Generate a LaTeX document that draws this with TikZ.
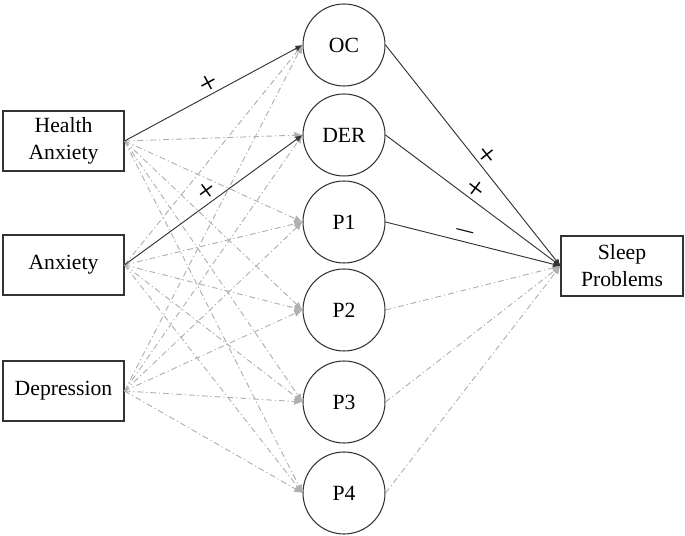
\documentclass[tikz,border=0pt]{standalone}
\usepackage{fontspec}
\setmainfont{Liberation Serif}
\usetikzlibrary{arrows.meta}
\definecolor{pathgray}{HTML}{B0B0B0}
\definecolor{linedark}{HTML}{333333}
\begin{document}
\begin{tikzpicture}[
    font=\fontsize{18.5}{23}\selectfont,
    obsbox/.style={draw=linedark, line width=0.9pt, minimum width=3.63cm, minimum height=1.8cm, align=center, inner sep=0pt},
    latent/.style={draw=linedark, line width=0.9pt, circle, minimum size=2.46cm, inner sep=0pt},
    sig/.style={draw=linedark, line width=0.8pt, -{Latex[length=6pt,width=5pt]}},
    nonsig/.style={draw=pathgray, line width=0.8pt, dash pattern=on 5pt off 2.5pt on 1pt off 2.5pt, -{Latex[length=7pt,width=6pt]}},
    sign/.style={sloped, above, inner sep=0.5pt, font=\fontsize{27}{27}\selectfont}
  ]
            \useasboundingbox (0,0) rectangle (20.55,16.08);

            \node[obsbox] (health) at (1.905,11.85) {Health\\Anxiety};
            \node[obsbox] (anx) at (1.905,8.13) {Anxiety};
            \node[obsbox] (dep) at (1.905,4.35) {Depression};

            \node[latent] (oc) at (10.32,14.73) {OC};
            \node[latent] (der) at (10.32,12.03) {DER};
            \node[latent] (p1) at (10.32,9.42) {P1};
            \node[latent] (p2) at (10.32,6.78) {P2};
            \node[latent] (p3) at (10.32,4.02) {P3};
            \node[latent] (p4) at (10.32,1.29) {P4};

            \node[obsbox, minimum width=3.66cm] (sleep) at (18.66,8.10) {Sleep\\Problems};

            % non-significant paths
            \path (health.east) edge[nonsig] (der.west);
            \path (health.east) edge[nonsig] (p1.west);
            \path (health.east) edge[nonsig] (p2.west);
            \path (health.east) edge[nonsig] (p3.west);
            \path (health.east) edge[nonsig] (p4.west);
            \path (anx.east) edge[nonsig] (oc.west);
            \path (anx.east) edge[nonsig] (p1.west);
            \path (anx.east) edge[nonsig] (p2.west);
            \path (anx.east) edge[nonsig] (p3.west);
            \path (anx.east) edge[nonsig] (p4.west);
            \path (dep.east) edge[nonsig] (oc.west);
            \path (dep.east) edge[nonsig] (der.west);
            \path (dep.east) edge[nonsig] (p1.west);
            \path (dep.east) edge[nonsig] (p2.west);
            \path (dep.east) edge[nonsig] (p3.west);
            \path (dep.east) edge[nonsig] (p4.west);
            \path (p2.east) edge[nonsig] (sleep.west);
            \path (p3.east) edge[nonsig] (sleep.west);
            \path (p4.east) edge[nonsig] (sleep.west);

            % significant paths
            \path (health.east) edge[sig] node[midway,sign]{+} (oc.west);
            \path (anx.east) edge[sig] node[midway,sign]{+} (der.west);
            \path (oc.east) edge[sig] node[pos=0.53,sign]{+} (sleep.west);
            \path (der.east) edge[sig] node[pos=0.48,sign]{+} (sleep.west);
            \path (p1.east) edge[sig] node[pos=0.44,sign]{$-$} (sleep.west);

        \end{tikzpicture}
\end{document}
